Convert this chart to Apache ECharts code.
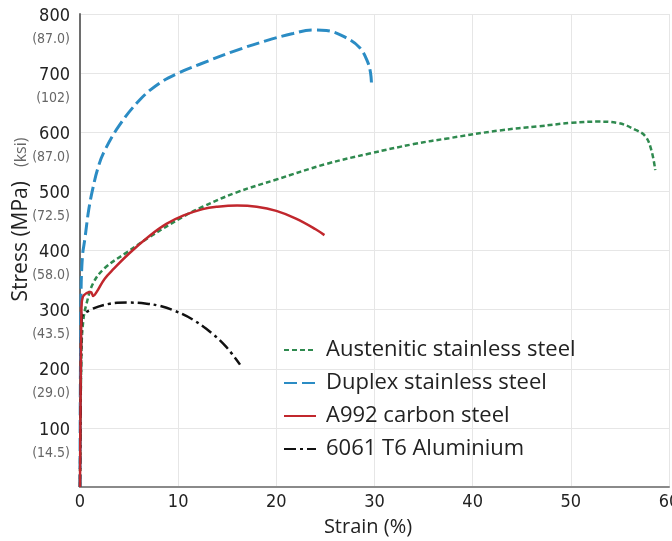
<!DOCTYPE html>
<html>
<head>
<meta charset="utf-8">
<style>html,body{margin:0;padding:0;background:#fff;}#chart{width:672px;height:541px;}</style>
<script src="https://cdn.jsdelivr.net/npm/echarts@6/dist/echarts.min.js"></script>
</head>
<body>
<div id="chart"></div>
<script>
// ---- data (strain %, stress MPa) ----
const seriesNames = ['Austenitic stainless steel', 'Duplex stainless steel', 'A992 carbon steel', '6061 T6 Aluminium'];

const austeniticStrain = [0, 0.15, 0.34, 0.68, 1.35, 2.5, 4.7, 7.1, 10.5, 12.5, 15.9, 20, 25, 29.5, 34, 37.6, 42.7, 46.7, 50.1, 52.8, 54.7, 56.6, 57.6, 58.2, 58.6];
const austeniticStress = [0, 230, 282, 311, 345, 370, 396, 423, 457, 474, 498, 520, 546, 564, 580, 590, 603, 610, 616, 618, 616, 604, 593, 570, 536];

const duplexStrain = [0, 0.1, 0.25, 0.5, 0.9, 1.35, 1.8, 2.4, 3.9, 6.1, 8.1, 10, 12.2, 15.5, 19, 21.7, 23.7, 25.1, 27.1, 28.5, 29.3, 29.6, 29.7];
const duplexStress = [0, 320, 390, 420, 470, 508, 538, 565, 609, 655, 683, 700, 715, 736, 755, 767, 773, 772, 760, 743, 719, 700, 680];

const carbonStrain = [0, 0.15, 0.3, 0.68, 1.1, 1.35, 1.7, 2.5, 3.5, 5, 7.1, 8.8, 10.5, 12.5, 14, 16, 18, 20, 22, 24, 24.9];
const carbonStress = [0, 305, 322, 328, 330, 323, 330, 352, 370, 395, 425, 445, 459, 470, 474, 476, 474, 467, 454, 436, 426];

const aluminiumStrain = [0, 0.1, 0.17, 1.0, 3.05, 4.8, 6.8, 8.2, 9.5, 11.5, 13.5, 14.9, 16.3];
const aluminiumStress = [0, 200, 286, 299, 310, 312, 310, 306, 299, 283, 259, 237, 207];

// y tick labels: MPa with ksi below (as printed in the source)
const yTicksMPa = [100, 200, 300, 400, 500, 600, 700, 800];
const yTicksKsi = ['(14.5)', '(29.0)', '(43.5)', '(58.0)', '(72.5)', '(87.0)', '(102)', '(87.0)'];

function pairs(xs, ys) { return xs.map((x, i) => [x, ys[i]]); }

const NARROW = '"Liberation Sans Narrow", "DejaVu Sans Condensed", "Open Sans", sans-serif';
const SANS = '"Open Sans", "Noto Sans", sans-serif';

const chart = echarts.init(document.getElementById('chart'), null, {renderer: 'canvas'});
chart.setOption({
  animation: false,
  backgroundColor: '#ffffff',
  grid: {left: 80, right: 3, top: 14, bottom: 54, containLabel: false, outerBoundsMode: 'none'},
  legend: {
    orient: 'vertical',
    left: 283,
    top: 339,
    itemWidth: 32,
    itemHeight: 14,
    itemGap: 11,
    padding: 0,
    data: seriesNames,
    itemStyle: {opacity: 0},
    textStyle: {fontFamily: SANS, fontSize: 22, color: '#222', lineHeight: 22, padding: [0, 0, 0, 5]}
  },
  xAxis: {
    type: 'value',
    min: 0, max: 60, interval: 10,
    name: 'Strain (%)',
    nameLocation: 'middle',
    nameGap: 30,
    nameMoveOverlap: false,
    nameTextStyle: {fontFamily: SANS, fontSize: 20, color: '#222', padding: [0, 13, 0, 0]},
    axisLine: {show: true, lineStyle: {color: '#8a8a8a', width: 2}},
    axisTick: {show: false},
    axisLabel: {fontFamily: NARROW, fontSize: 18, color: '#222', margin: 6},
    splitLine: {show: true, lineStyle: {color: '#e6e6e6', width: 1}}
  },
  yAxis: {
    type: 'value',
    min: 0, max: 800, interval: 100,
    name: '{a|Stress (MPa)}{sp|}{b|(ksi)}',
    nameLocation: 'middle',
    nameGap: 48,
    nameRotate: 90,
    nameMoveOverlap: false,
    nameTextStyle: {
      padding: [0, 0, 0, 62],
      rich: {
        a: {fontFamily: SANS, fontSize: 21, color: '#222'},
        sp: {width: 14},
        b: {fontFamily: SANS, fontSize: 16, color: '#666'}
      }
    },
    axisLine: {show: true, lineStyle: {color: '#6e6e6e', width: 2}},
    axisTick: {show: false},
    axisLabel: {
      margin: 10,
      padding: [27, 0, 0, 0],
      formatter: function (v) {
        const i = yTicksMPa.indexOf(v);
        if (i < 0) return '';
        return '{a|' + v + '}\n{b|' + yTicksKsi[i] + '}';
      },
      rich: {
        a: {fontFamily: NARROW, fontSize: 18, lineHeight: 23, color: '#222', align: 'right'},
        b: {fontFamily: NARROW, fontSize: 14, lineHeight: 23, color: '#666', align: 'right'}
      }
    },
    splitLine: {show: true, lineStyle: {color: '#e6e6e6', width: 1}}
  },
  series: [
    {
      name: seriesNames[0], type: 'line', symbol: 'none', smooth: 0.4, z: 2,
      data: pairs(austeniticStrain, austeniticStress),
      lineStyle: {color: '#2f8a4f', width: 2.5, type: [5, 3]},
      itemStyle: {color: '#2f8a4f'}
    },
    {
      name: seriesNames[1], type: 'line', symbol: 'none', smooth: 0.4, z: 3,
      data: pairs(duplexStrain, duplexStress),
      lineStyle: {color: '#2b8cc4', width: 3, type: [13, 5]},
      itemStyle: {color: '#2b8cc4'}
    },
    {
      name: seriesNames[2], type: 'line', symbol: 'none', smooth: 0.4, z: 5,
      data: pairs(carbonStrain, carbonStress),
      lineStyle: {color: '#c1272d', width: 2.5, type: 'solid'},
      itemStyle: {color: '#c1272d'}
    },
    {
      name: seriesNames[3], type: 'line', symbol: 'none', smooth: 0.4, z: 4,
      data: pairs(aluminiumStrain, aluminiumStress),
      lineStyle: {color: '#111111', width: 2.5, type: [12, 4, 3, 4]},
      itemStyle: {color: '#111111'}
    }
  ]
});
</script>
</body>
</html>
